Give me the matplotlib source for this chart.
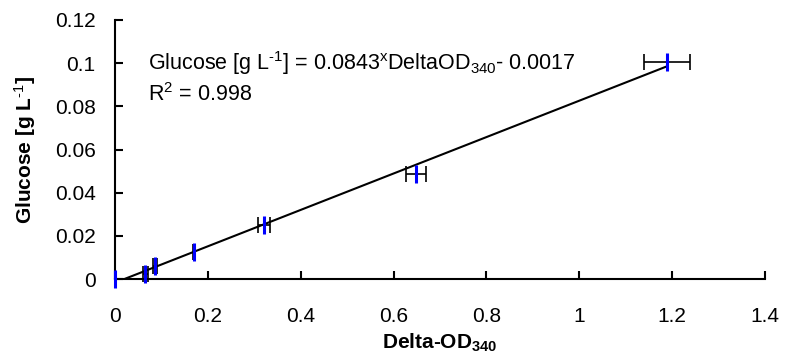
import numpy as np
import matplotlib
matplotlib.use("Agg")
import matplotlib.pyplot as plt

# Fuente tipo Arial
plt.rcParams['font.family'] = ['Liberation Sans', 'DejaVu Sans']
plt.rcParams['mathtext.fontset'] = 'custom'
plt.rcParams['mathtext.rm'] = 'Liberation Sans'
plt.rcParams['mathtext.it'] = 'Liberation Sans:italic'
plt.rcParams['mathtext.bf'] = 'Liberation Sans:bold'

# Datos de la curva de calibración
delta_od = [0.0, 0.065, 0.086, 0.171, 0.321, 0.648, 1.19]
delta_od_err = [0.0, 0.005, 0.005, 0.002, 0.012, 0.0215, 0.0495]
glucose = [0.0, 0.0022, 0.006, 0.0124, 0.025, 0.0487, 0.1004]

pendiente = 0.0843
intercepto = -0.0017

fs = 15

fig = plt.figure(figsize=(7.91, 3.55), dpi=100)
ax = fig.add_axes([0.1454, 0.214, 0.967 - 0.1454, 0.9437 - 0.214])

# Línea de tendencia
x_lin = np.array([0.0, max(delta_od)])
ax.plot(x_lin, pendiente * x_lin + intercepto, color='black', lw=1.5, zorder=2)

# Barras de error
ax.errorbar(delta_od, glucose, xerr=delta_od_err, fmt='none', ecolor='black',
            elinewidth=1.2, capsize=6, capthick=1.2, zorder=3, clip_on=False)
ax.plot(delta_od, glucose, linestyle='none', marker='|', markersize=13,
        markeredgewidth=2.2, color='#0000ff', zorder=4, clip_on=False)

ax.set_xlim(0, 1.4)
ax.set_ylim(0, 0.12)
ax.set_xticks(np.arange(0, 1.41, 0.2))
ax.set_xticklabels(['0', '0.2', '0.4', '0.6', '0.8', '1', '1.2', '1.4'])
ax.set_yticks(np.arange(0, 0.121, 0.02))
ax.set_yticklabels(['0', '0.02', '0.04', '0.06', '0.08', '0.1', '0.12'])

for lado in ['top', 'right']:
    ax.spines[lado].set_visible(False)
for lado in ['left', 'bottom']:
    ax.spines[lado].set_linewidth(1.5)
ax.tick_params(direction='in', length=6, width=1.5, labelsize=fs)
ax.tick_params(axis='x', pad=20)
ax.tick_params(axis='y', pad=14)

ax.set_xlabel(r'Delta-OD$_{\mathbf{340}}$', fontsize=fs, fontweight='bold', labelpad=4)
ax.set_ylabel(r'Glucose [g L$^{\mathbf{\text{-1}}}$]', fontsize=fs, fontweight='bold', labelpad=12)

ax.text(0.071, 0.1, r'Glucose [g L$^{\text{-1}}$] = 0.0843$^{\mathrm{x}}$DeltaOD$_{340}$- 0.0017',
        fontsize=15.5, va='center', ha='left')
ax.text(0.071, 0.0853, r'R$^{2}$ = 0.998', fontsize=15.5, va='center', ha='left')

fig.savefig('out.png', dpi=100)
